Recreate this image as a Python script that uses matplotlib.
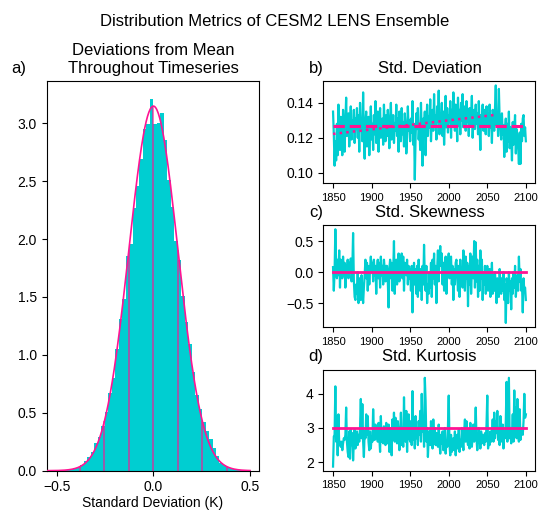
import numpy as np
import matplotlib

matplotlib.use("Agg")
import matplotlib.pyplot as plt
from matplotlib.transforms import offset_copy

plt.rcParams["font.family"] = ["Liberation Sans", "DejaVu Sans"]

# ---- panel a: histogram of deviations (density per bin) ----
bin_width = 0.018
bin_index = np.arange(-28, 28)  # bins k*w .. (k+1)*w
hist_density = [
    0.001, 0.002, 0.004, 0.007, 0.012, 0.020, 0.030, 0.045, 0.080, 0.115,
    0.160, 0.240, 0.290, 0.390, 0.510, 0.675, 0.800, 1.050, 1.310, 1.485,
    1.850, 1.960, 2.270, 2.460, 2.690, 2.950, 2.990, 3.210, 2.990, 3.000,
    3.090, 2.860, 2.510, 2.280, 1.980, 1.820, 1.510, 1.280, 1.090, 0.850,
    0.650, 0.530, 0.420, 0.340, 0.270, 0.200, 0.130, 0.070, 0.050, 0.030,
    0.020, 0.013, 0.008, 0.005, 0.003, 0.002,
]
fit_mean = 0.0
fit_std = 0.1267
sigma_steps = [-3, -2, -1, 0, 1, 2, 3]

# ---- panels b-d: yearly ensemble metrics ----
years = np.arange(1850, 2101)

std_dev = [
    0.135, 0.122, 0.104, 0.118, 0.107, 0.128, 0.110, 0.139, 0.121, 0.113,
    0.132, 0.118, 0.110, 0.136, 0.125, 0.112, 0.129, 0.143, 0.121, 0.128,
    0.134, 0.115, 0.126, 0.138, 0.119, 0.130, 0.124, 0.136, 0.117, 0.131,
    0.125, 0.137, 0.120, 0.133, 0.112, 0.140, 0.126, 0.131, 0.118, 0.146,
    0.121, 0.108, 0.129, 0.135, 0.115, 0.127, 0.132, 0.110, 0.124, 0.138,
    0.119, 0.128, 0.113, 0.133, 0.122, 0.141, 0.117, 0.126, 0.135, 0.112,
    0.129, 0.137, 0.120, 0.124, 0.131, 0.116, 0.139, 0.125, 0.118, 0.133,
    0.121, 0.136, 0.127, 0.114, 0.130, 0.140, 0.119, 0.126, 0.133, 0.117,
    0.128, 0.124, 0.139, 0.121, 0.131, 0.112, 0.135, 0.126, 0.118, 0.137,
    0.122, 0.129, 0.115, 0.134, 0.127, 0.111, 0.120, 0.138, 0.124, 0.130,
    0.118, 0.131, 0.123, 0.141, 0.116, 0.128, 0.096, 0.120, 0.134, 0.125,
    0.137, 0.119, 0.127, 0.113, 0.140, 0.122, 0.104, 0.131, 0.125, 0.135,
    0.110, 0.128, 0.139, 0.121, 0.132, 0.126, 0.142, 0.118, 0.130, 0.136,
    0.124, 0.145, 0.127, 0.133, 0.119, 0.138, 0.129, 0.147, 0.122, 0.134,
    0.128, 0.140, 0.121, 0.135, 0.116, 0.131, 0.144, 0.126, 0.137, 0.123,
    0.133, 0.129, 0.141, 0.120, 0.136, 0.127, 0.146, 0.131, 0.124, 0.139,
    0.133, 0.118, 0.143, 0.127, 0.136, 0.122, 0.140, 0.130, 0.145, 0.126,
    0.135, 0.138, 0.124, 0.141, 0.129, 0.133, 0.121, 0.137, 0.127, 0.132,
    0.144, 0.120, 0.131, 0.136, 0.125, 0.139, 0.128, 0.134, 0.122, 0.141,
    0.127, 0.113, 0.133, 0.129, 0.139, 0.124, 0.136, 0.131, 0.122, 0.138,
    0.128, 0.134, 0.121, 0.139, 0.126, 0.132, 0.117, 0.136, 0.129, 0.124,
    0.137, 0.150, 0.127, 0.133, 0.121, 0.148, 0.131, 0.125, 0.119, 0.134,
    0.122, 0.127, 0.109, 0.124, 0.131, 0.112, 0.128, 0.118, 0.135, 0.114,
    0.126, 0.120, 0.107, 0.129, 0.116, 0.124, 0.133, 0.111, 0.125, 0.119,
    0.115, 0.105, 0.123, 0.105, 0.128, 0.118, 0.131, 0.133, 0.121, 0.126,
    0.118,
]
std_mean = 0.1268
trend_years = [1850, 2062]
trend_vals = [0.1222, 0.1332]

skewness = [
    0.08, -0.30, 0.00, 0.69, 0.10, -0.10, 0.20, -0.05, 0.35, -0.25,
    0.20, 0.05, -0.10, 0.25, -0.05, 0.15, -0.25, 0.10, 0.00, 0.20,
    -0.10, 0.15, 0.00, 0.22, -0.15, 0.05, 0.63, -0.15, -0.40, -0.45,
    -0.20, -0.35, 0.00, -0.50, -0.10, -0.35, -0.45, -0.05, -0.30, -0.50,
    -0.25, -0.05, 0.20, -0.10, 0.15, -0.30, 0.10, -0.20, 0.05, 0.25,
    0.00, 0.15, -0.15, 0.20, -0.05, 0.10, -0.35, 0.05, 0.20, -0.10,
    0.15, -0.25, 0.25, -0.05, 0.10, -0.20, 0.20, 0.05, -0.15, 0.10,
    0.10, -0.15, -0.57, 0.05, 0.20, -0.10, 0.15, -0.30, 0.00, 0.50,
    -0.35, 0.10, 0.20, -0.20, 0.05, 0.30, -0.15, 0.25, 0.00, 0.30,
    -0.10, 0.25, -0.30, 0.15, 0.05, -0.05, 0.20, -0.20, 0.10, -0.10,
    0.05, -0.30, 0.10, -0.65, -0.10, 0.15, -0.20, 0.05, -0.35, 0.10,
    -0.40, 0.20, -0.15, -0.30, 0.05, -0.45, 0.10, -0.20, 0.44, -0.10,
    -0.30, 0.10, -0.50, -0.20, -0.35, 0.00, -0.25, 0.15, -0.40, 0.20,
    -0.10, 0.30, -0.20, 0.10, -0.50, 0.05, 0.35, -0.15, 0.20, 0.42,
    0.10, 0.30, -0.20, 0.15, -0.30, 0.05, 0.25, -0.35, 0.00, 0.15,
    0.30, -0.10, 0.20, 0.25, -0.20, 0.10, -0.45, 0.05, -0.20, 0.15,
    0.20, -0.05, -0.30, 0.10, -0.40, 0.20, -0.15, 0.05, -0.25, 0.35,
    0.00, -0.30, 0.25, -0.10, 0.15, -0.55, 0.10, -0.20, 0.30, -0.35,
    0.05, 0.25, -0.10, 0.50, -0.25, 0.48, -0.15, 0.20, -0.40, 0.10,
    -0.30, 0.35, -0.10, 0.20, -0.45, 0.00, -0.20, 0.10, -0.35, -0.10,
    0.10, -0.30, -0.15, 0.05, -0.40, -0.20, 0.15, -0.35, -0.05, -0.30,
    0.00, -0.25, -0.50, -0.10, -0.30, -0.40, 0.05, -0.20, -0.35, -0.10,
    -0.30, 0.00, -0.45, -0.20, -0.82, -0.10, -0.25, -0.50, 0.00, -0.30,
    -0.15, -0.60, -0.10, -0.35, 0.00, -0.25, 0.10, -0.40, -0.20, -0.05,
    -0.30, 0.25, -0.15, 0.05, -0.30, -0.20, -0.65, -0.10, -0.30, -0.25,
    -0.45,
]
skew_ref = 0.0

kurtosis = [
    1.87, 2.75, 2.80, 4.22, 2.60, 3.35, 2.20, 3.40, 2.50, 2.60,
    2.45, 2.60, 2.35, 2.55, 2.70, 2.65, 2.80, 3.60, 2.60, 2.30,
    2.15, 2.90, 2.10, 2.95, 2.50, 2.85, 2.05, 2.60, 2.95, 2.40,
    2.70, 2.90, 2.50, 2.80, 2.60, 3.00, 3.85, 2.70, 3.70, 2.60,
    2.15, 2.90, 2.70, 3.40, 2.80, 3.35, 2.60, 2.35, 2.90, 2.40,
    2.75, 2.60, 3.55, 2.90, 2.65, 3.10, 2.70, 2.95, 2.60, 3.15,
    2.70, 2.30, 3.35, 2.60, 2.90, 2.55, 3.05, 2.70, 2.50, 3.15,
    2.75, 2.55, 3.10, 2.30, 2.90, 3.00, 2.20, 3.25, 2.65, 3.45,
    2.60, 3.30, 2.70, 2.55, 3.20, 2.90, 2.35, 2.70, 3.45, 2.50,
    3.00, 2.45, 3.90, 2.80, 2.60, 3.50, 2.30, 3.10, 3.40, 2.70,
    2.60, 3.20, 2.50, 4.08, 2.65, 3.30, 2.40, 3.35, 2.70, 3.00,
    2.50, 3.20, 2.80, 3.50, 2.60, 4.00, 2.90, 3.30, 2.45, 4.47,
    3.80, 2.60, 3.00, 2.15, 2.70, 2.90, 2.50, 3.20, 2.75, 2.40,
    3.25, 2.60, 3.00, 2.50, 2.85, 2.70, 2.45, 3.10, 2.60, 2.25,
    2.80, 2.55, 2.90, 2.35, 2.70, 3.00, 2.25, 2.60, 2.45, 3.05,
    3.95, 2.50, 2.20, 2.80, 2.30, 2.60, 2.70, 2.35, 2.90, 2.20,
    2.55, 2.80, 2.40, 2.95, 2.30, 2.65, 2.45, 3.00, 2.60, 2.35,
    2.90, 3.25, 2.60, 3.20, 2.70, 2.50, 2.95, 2.40, 3.15, 2.60,
    2.45, 2.80, 3.10, 2.60, 2.90, 3.60, 2.70, 2.35, 2.60, 3.00,
    2.75, 2.40, 2.90, 2.55, 2.80, 2.65, 2.50, 2.85, 2.60, 3.10,
    3.95, 2.40, 2.70, 2.50, 2.90, 2.60, 2.75, 3.25, 2.60, 3.45,
    2.70, 3.20, 2.85, 3.50, 2.65, 3.00, 2.50, 3.35, 2.80, 2.60,
    3.10, 2.40, 2.90, 2.70, 3.20, 4.35, 2.60, 3.60, 4.47, 2.70,
    3.00, 2.55, 2.80, 3.40, 2.60, 4.10, 2.90, 3.60, 2.70, 3.85,
    2.80, 2.60, 3.55, 2.65, 3.00, 2.85, 2.80, 3.20, 4.00, 3.30,
    3.40,
]
kurt_ref = 3.0

CYAN = "darkturquoise"
PINK = "deeppink"


def normal_pdf(x, mu, sd):
    return np.exp(-0.5 * ((x - mu) / sd) ** 2) / (sd * np.sqrt(2 * np.pi))


def panel_letter(ax, fig, text, x):
    trans = offset_copy(ax.transAxes, fig=fig, x=0, y=6, units="points")
    ax.text(x, 1.0, text, transform=trans, ha="right", va="baseline", fontsize=12)


fig = plt.figure(figsize=(5.39, 5.13), dpi=100)
fig.text(0.51, 0.958, "Distribution Metrics of CESM2 LENS Ensemble",
         ha="center", va="center", fontsize=12)

# panel a
ax_a = fig.add_axes([0.0866, 0.0825, 0.3945, 0.7595])
edges = np.append(bin_index, bin_index[-1] + 1) * bin_width
centers = (bin_index + 0.5) * bin_width
ax_a.hist(centers, bins=edges, weights=hist_density, color=CYAN, zorder=1)
xs = np.linspace(-0.55, 0.5, 300)
ax_a.plot(xs, normal_pdf(xs, fit_mean, fit_std), color=PINK, lw=1.2, zorder=3)
for n in sigma_steps:
    xv = fit_mean + n * fit_std
    ax_a.vlines(xv, 0, normal_pdf(xv, fit_mean, fit_std), color=PINK,
                alpha=0.7, lw=1.2, zorder=2)
ax_a.set_xlim(-0.552, 0.548)
ax_a.set_ylim(0, 3.365)
ax_a.set_xticks([-0.5, 0.0, 0.5])
ax_a.set_yticks(np.arange(0, 3.01, 0.5))
ax_a.set_xlabel("Standard Deviation (K)", fontsize=10, labelpad=1.5)
ax_a.set_title("Deviations from Mean\nThroughout Timeseries", fontsize=12)
panel_letter(ax_a, fig, "a)", -0.094)

# panels b-d
right_left, right_w = 0.600, 0.3935
ax_b = fig.add_axes([right_left, 0.643, right_w, 0.199])
ax_c = fig.add_axes([right_left, 0.362, right_w, 0.199])
ax_d = fig.add_axes([right_left, 0.0825, right_w, 0.197])

ax_b.plot(years, std_dev, color=CYAN, lw=1.6, zorder=1)
ax_b.plot([years[0], years[-1]], [std_mean, std_mean], color=PINK, ls="--",
          lw=2.2, zorder=3)
ax_b.plot(trend_years, trend_vals, color=PINK, ls=":", lw=1.8, zorder=3)
ax_b.set_ylim(0.094, 0.1525)
ax_b.set_yticks([0.10, 0.12, 0.14])
ax_b.set_title("Std. Deviation", fontsize=12)
panel_letter(ax_b, fig, "b)", 0.0)

ax_c.plot(years, skewness, color=CYAN, lw=1.6, zorder=1)
ax_c.plot([years[0], years[-1]], [skew_ref, skew_ref], color=PINK, lw=2, zorder=3)
ax_c.set_ylim(-0.89, 0.756)
ax_c.set_yticks([-0.5, 0.0, 0.5])
ax_c.set_title("Std. Skewness", fontsize=12)
panel_letter(ax_c, fig, "c)", 0.0)

ax_d.plot(years, kurtosis, color=CYAN, lw=1.6, zorder=1)
ax_d.plot([years[0], years[-1]], [kurt_ref, kurt_ref], color=PINK, lw=2, zorder=3)
ax_d.set_ylim(1.75, 4.71)
ax_d.set_yticks([2, 3, 4])
ax_d.set_title("Std. Kurtosis", fontsize=12)
panel_letter(ax_d, fig, "d)", 0.0)

for ax in (ax_b, ax_c, ax_d):
    ax.set_xlim(1837.5, 2112.5)
    ax.set_xticks(np.arange(1850, 2101, 50))
    ax.tick_params(axis="x", labelsize=8)
    ax.tick_params(axis="y", labelsize=10)

fig.savefig("out.png", dpi=100)
